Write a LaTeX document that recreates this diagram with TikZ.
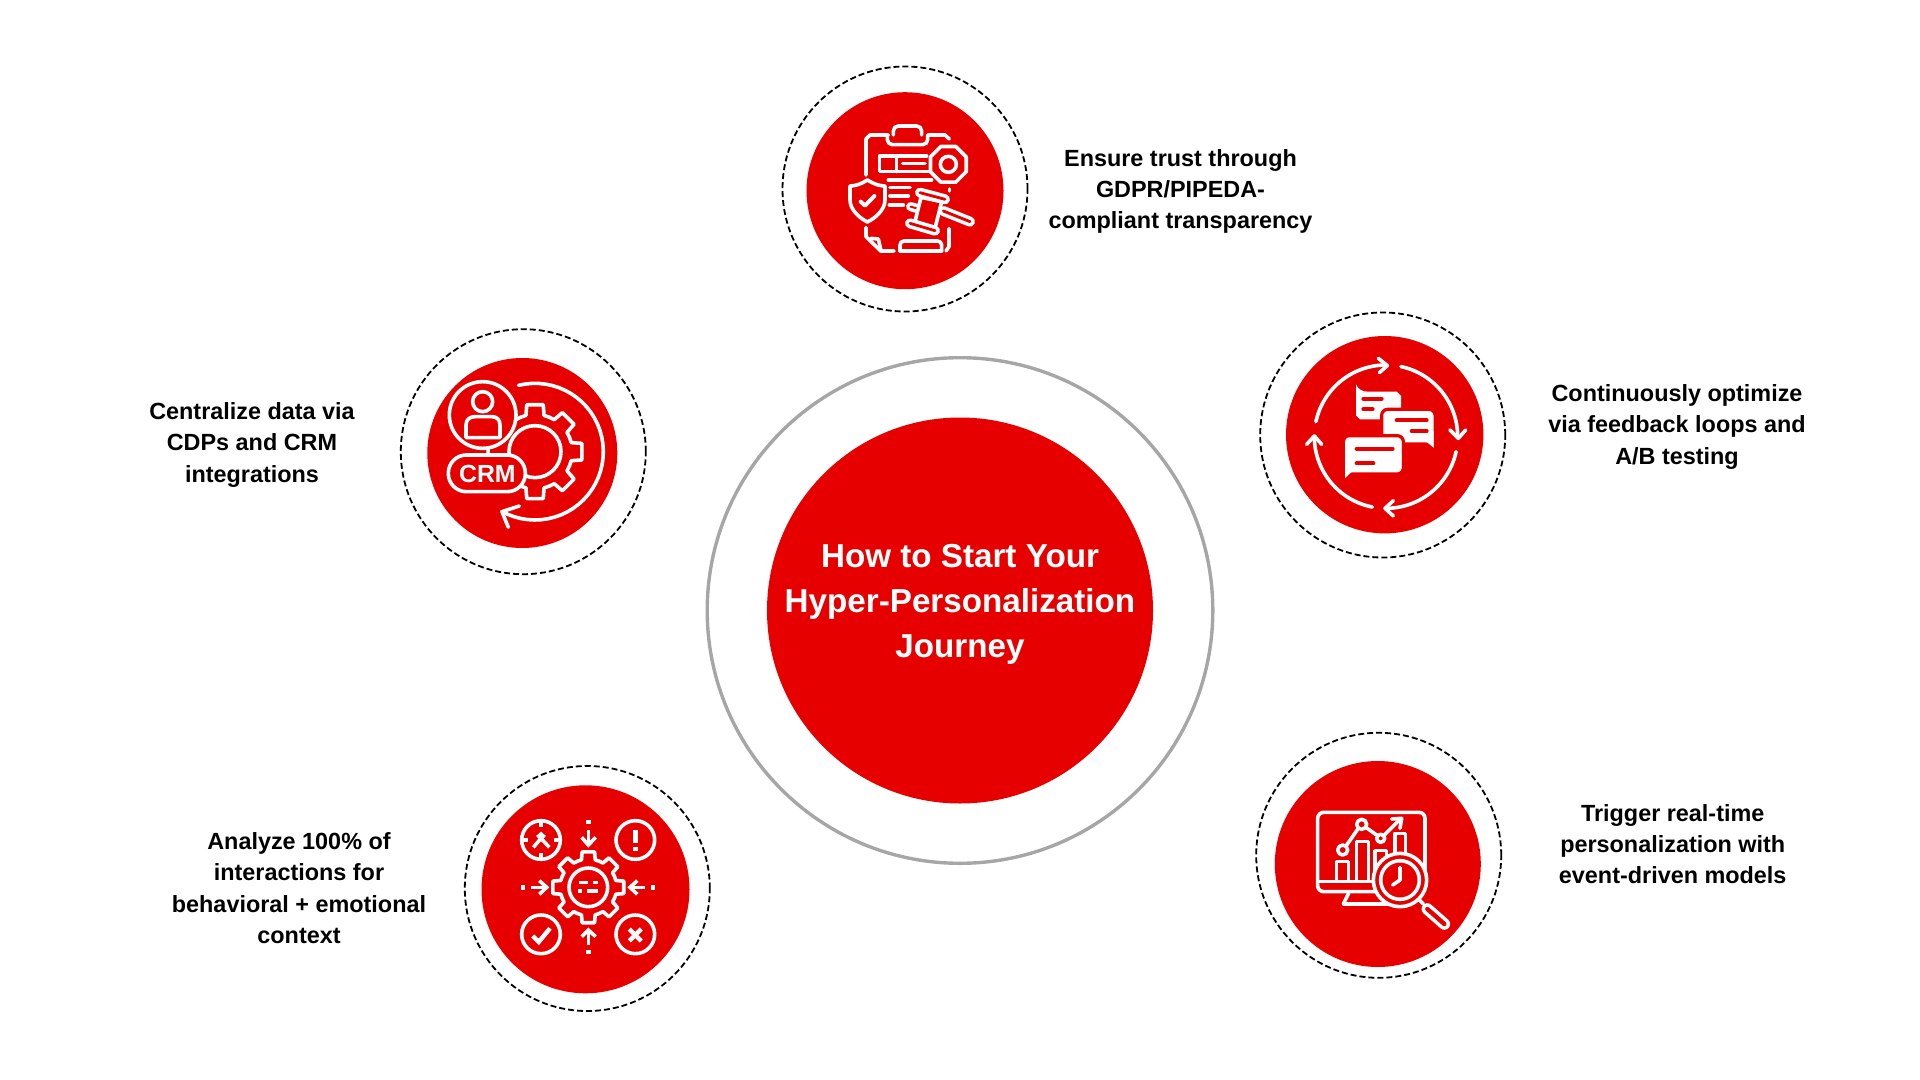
\documentclass[tikz,border=0pt]{standalone}
\usepackage{fontspec}
\setmainfont{Liberation Sans}
\definecolor{discred}{HTML}{E60000}
\definecolor{ringgrey}{HTML}{A6A6A6}
\tikzset{
  disc/.style={circle,fill=discred,inner sep=0pt,outer sep=0pt},
  dashring/.style={circle,draw=black,line width=0.9pt,dash pattern=on 3pt off 1.5pt,inner sep=0pt,outer sep=0pt},
  greyring/.style={circle,draw=ringgrey,line width=1.7pt,inner sep=0pt,outer sep=0pt},
  note/.style={align=center,font=\bfseries\fontsize{11.7}{15.65}\selectfont},
  hubnote/.style={align=center,text=white,font=\bfseries\fontsize{16.6}{22.6}\selectfont},
  icon/.style={draw=white,line width=1.8pt,line cap=round,line join=round},
  flaticon/.style={icon,line cap=butt,line join=miter},
  cutline/.style={draw=discred,line width=2pt,line cap=round},
  bubble/.style={fill=white,draw=discred,line width=1.6pt,rounded corners=3pt}
}
\newcommand{\iconbar}[3]{%
  \draw[white,line width=#3pt,line cap=round] #1 -- #2;
  \draw[discred,line width={#3-3.6},line cap=round] #1 -- #2;}
\newcommand{\iconarc}[5]{%
  \draw[icon] plot[domain=#4:#5,samples=40] ({#1+#3*cos(\x)},{#2+#3*sin(\x)});}
\newcommand{\toothgear}[4]{%
  \begin{scope}[shift={(#1,#2)}]
    \foreach \a in {0,45,...,315}
      \draw[icon] (\a-22.5:#3) -- (\a-14:#3) -- (\a-10:#4) -- (\a+10:#4) -- (\a+14:#3) -- (\a+22.5:#3);
  \end{scope}}
\begin{document}
\begin{tikzpicture}[x=0.5pt,y=-0.5pt]
  \useasboundingbox (0,0) rectangle (1920,1080);

  \node[greyring,minimum size=252.8pt] (hubring) at (960,610.5) {};
  \node[disc,minimum size=193pt] (hubdisc) at (960,610.5) {};
  \node[hubnote] (hublabel) at (960,604.5) {How to Start Your\\Hyper-Personalization\\Journey};

  \node[dashring,minimum size=122.5pt] (trustring) at (905,189) {};
  \node[disc,minimum size=98.5pt] (trustdisc) at (905,190.7) {};
  \node[note] (trustlabel) at (1180.5,191.5) {Ensure trust through\\GDPR/PIPEDA-\\compliant transparency};

  \node[dashring,minimum size=122.5pt] (crmring) at (523.3,451.7) {};
  \node[disc,minimum size=95pt] (crmdisc) at (522.3,453) {};
  \node[note] (crmlabel) at (252,445) {Centralize data via\\CDPs and CRM\\integrations};

  \node[dashring,minimum size=122.5pt] (loopring) at (1382.7,435) {};
  \node[disc,minimum size=98.7pt] (loopdisc) at (1384.7,434.7) {};
  \node[note] (looplabel) at (1677,427) {Continuously optimize\\via feedback loops and\\A/B testing};

  \node[dashring,minimum size=122.5pt] (eventring) at (1378.7,855.3) {};
  \node[disc,minimum size=103pt] (eventdisc) at (1377.8,864) {};
  \node[note] (eventlabel) at (1672.7,844) {Trigger real-time\\personalization with\\event-driven models};

  \node[dashring,minimum size=122.5pt] (mindring) at (587.3,888.5) {};
  \node[disc,minimum size=104pt] (minddisc) at (585.5,889.3) {};
  \node[note] (mindlabel) at (299,888) {Analyze 100\% of\\interactions for\\behavioral + emotional\\context};

  \begin{scope}[shift={(760,40)},scale=1/3]
    \draw[icon] (385,285) -- (330,285) -- (318,297) -- (318,405);
    \draw[icon] (505,285) -- (555,285) -- (568,297);
    \draw[icon] (318,562) -- (318,590) -- (362,633) -- (402,633);
    \draw[icon] (332,595) -- (355,597) -- (362,628);
    \draw[icon] (567,565) -- (567,620) -- (558,633);
    \draw[icon] (568,447) -- (568,453);
    \draw[icon,rounded corners=2.5pt] (400,285) -- (400,258) -- (485,258) -- (485,285);
    \draw[icon,rounded corners=2.5pt] (382,285) -- (382,314) -- (503,314) -- (503,285);
    \draw[icon] (500,348) -- (358,348) -- (358,395) -- (505,395);
    \draw[icon] (410,348) -- (410,395);
    \draw[icon] (428,371) -- (495,371);
    \draw[icon] (385,420) -- (515,420);
    \draw[icon] (390,443) -- (450,443);
    \draw[icon] (390,468) -- (445,468);
    \draw[icon] (388,495) -- (430,495);
    \begin{scope}[shift={(565,373)}]
      \draw[icon,fill=discred] (22.5:58) -- (67.5:58) -- (112.5:58) -- (157.5:58) -- (202.5:58) -- (247.5:58) -- (292.5:58) -- (337.5:58) -- cycle;
      \draw[icon] (0,0) circle[radius=24];
    \end{scope}
    \draw[icon,fill=discred] (322,420) .. controls (345,435) and (365,438) .. (375,438) -- (375,480) .. controls (375,510) and (345,535) .. (322,546) .. controls (300,535) and (270,510) .. (270,480) -- (270,438) .. controls (285,438) and (305,432) .. (322,420) -- cycle;
    \draw[icon,line width=2pt] (302,485) -- (315,497) -- (343,468);
    \iconbar{(550,513)}{(630,545)}{5}
    \iconbar{(452,500)}{(470,505)}{4.6}
    \draw[icon,fill=discred] (483,472) -- (465,545) -- (525,565) -- (545,485) -- cycle;
    \iconbar{(480,458)}{(555,478)}{5}
    \iconbar{(450,550)}{(525,572)}{5}
    \draw[icon,rounded corners=2pt] (420,633) -- (420,603) -- (545,603) -- (545,633);
    \draw[icon] (420,633) -- (545,633);
  \end{scope}

  \begin{scope}[shift={(380,310)},scale=1/3]
    \toothgear{465}{425}{112}{143}
    \draw[icon] (465,425) circle[radius=78];
    \draw[icon,fill=discred] (308,315) circle[radius=100];
    \draw[icon] (308,275) circle[radius=30];
    \draw[icon] (258,383) -- (258,345) .. controls (258,328) and (270,320) .. (285,320) -- (335,320) .. controls (350,320) and (360,328) .. (360,345) -- (360,383) -- cycle;
    \draw[icon] (325,418) -- (325,432);
    \draw[icon,fill=discred,rounded corners=9pt] (205,435) rectangle (436,545);
    \node[text=white,font=\bfseries\fontsize{12.4}{12.4}\selectfont,inner sep=0pt] (crmword) at (322,491) {CRM};
    \iconarc{465}{425}{205}{-104}{119}
    \draw[icon] (418,588) -- (366,605) -- (385,652);
  \end{scope}

  \begin{scope}[shift={(1250,290)},scale=1/3]
    \iconarc{408}{440}{215}{-168}{-92}
    \iconarc{408}{440}{215}{-78}{0}
    \iconarc{408}{440}{215}{12}{90}
    \iconarc{408}{440}{215}{101}{180}
    \draw[icon] (385,205) -- (412,227) -- (388,248);
    \draw[icon] (600,420) -- (625,445) -- (647,420);
    \draw[icon] (430,632) -- (405,655) -- (430,678);
    \draw[icon] (170,463) -- (193,438) -- (215,463);
    \fill[white] (318,283) .. controls (325,298) and (335,305) .. (355,305) -- (440,305) -- (453,318) -- (453,375) -- (440,388) -- (330,388) -- (318,376) -- cycle;
    \draw[bubble] (395,358) -- (555,358) -- (557,490) .. controls (545,475) and (530,462) .. (510,462) -- (395,462) -- cycle;
    \draw[bubble] (280,582) -- (280,437) -- (460,437) -- (460,552) -- (325,552) .. controls (305,552) and (292,565) .. (280,582) -- cycle;
    \draw[cutline] (340,326) -- (395,326);
    \draw[cutline] (340,358) -- (368,358);
    \draw[cutline] (440,391) -- (530,391);
    \draw[cutline] (485,423) -- (530,423);
    \draw[cutline] (320,476) -- (428,476);
    \draw[cutline] (320,520) -- (370,520);
  \end{scope}

  \begin{scope}[shift={(1250,720)},scale=1/3]
    \draw[icon,rounded corners=3pt] (203,277) rectangle (525,515);
    \draw[icon] (205,485) -- (385,485);
    \draw[icon] (296,520) -- (280,552) -- (420,552);
    \draw[icon] (260,483) -- (260,425) -- (295,425) -- (295,483);
    \draw[icon] (320,483) -- (320,365) -- (355,365) -- (355,483);
    \draw[icon] (375,470) -- (375,392) -- (410,392) -- (410,410);
    \draw[icon] (435,400) -- (435,340) -- (467,340) -- (467,400);
    \draw[icon] (288,378) -- (325,325);
    \draw[icon] (347,322) -- (380,345);
    \draw[icon] (403,345) -- (450,298);
    \draw[icon] (425,297) -- (455,295) -- (450,325);
    \draw[icon] (278,390) circle[radius=15];
    \draw[icon] (335,313) circle[radius=15];
    \draw[icon] (392,355) circle[radius=12];
    \draw[icon,fill=discred] (450,480) circle[radius=80];
    \draw[icon] (450,480) circle[radius=58];
    \draw[icon] (450,442) -- (450,480) -- (428,495);
    \draw[icon] (508,540) -- (520,552);
    \iconbar{(532,567)}{(583,612)}{5.8}
  \end{scope}

  \begin{scope}[shift={(450,750)},scale=1/3]
    \toothgear{415}{412}{85}{108}
    \draw[icon] (415,412) circle[radius=58];
    \draw[flaticon] (388,398) -- (415,398);
    \draw[flaticon] (430,398) -- (445,398);
    \draw[flaticon] (385,423) -- (396,423);
    \draw[flaticon] (410,423) -- (445,423);
    \draw[icon] (273,270) circle[radius=58];
    \draw[icon] (556,270) circle[radius=58];
    \draw[icon] (273,553) circle[radius=58];
    \draw[icon] (556,553) circle[radius=58];
    \draw[flaticon] (273,212) -- (273,232);
    \draw[flaticon] (273,308) -- (273,328);
    \draw[flaticon] (215,270) -- (235,270);
    \draw[flaticon] (311,270) -- (331,270);
    \draw[flaticon] (250,292) -- (273,265) -- (298,292);
    \draw[flaticon] (262,262) -- (273,252) -- (284,262);
    \draw[flaticon,line width=2.2pt] (556,240) -- (556,280);
    \draw[flaticon,line width=2.2pt] (556,290) -- (556,303);
    \draw[flaticon,line width=2.2pt] (248,558) -- (266,576) -- (300,535);
    \draw[flaticon,line width=2.2pt] (538,537) -- (574,573);
    \draw[flaticon,line width=2.2pt] (574,537) -- (538,573);
    \draw[flaticon,line width=2.2pt] (415,209) -- (415,221);
    \draw[flaticon] (415,240) -- (415,285);
    \draw[flaticon] (395,262) -- (415,285) -- (437,262);
    \draw[flaticon,line width=2.2pt] (415,601) -- (415,613);
    \draw[flaticon] (415,585) -- (415,540);
    \draw[flaticon] (395,560) -- (415,540) -- (437,560);
    \draw[flaticon,line width=2.2pt] (214,412) -- (226,412);
    \draw[flaticon] (243,412) -- (290,412);
    \draw[flaticon] (268,392) -- (290,412) -- (268,433);
    \draw[flaticon,line width=2.2pt] (604,412) -- (616,412);
    \draw[flaticon] (585,412) -- (540,412);
    \draw[flaticon] (562,392) -- (540,412) -- (562,433);
  \end{scope}
\end{tikzpicture}
\end{document}
